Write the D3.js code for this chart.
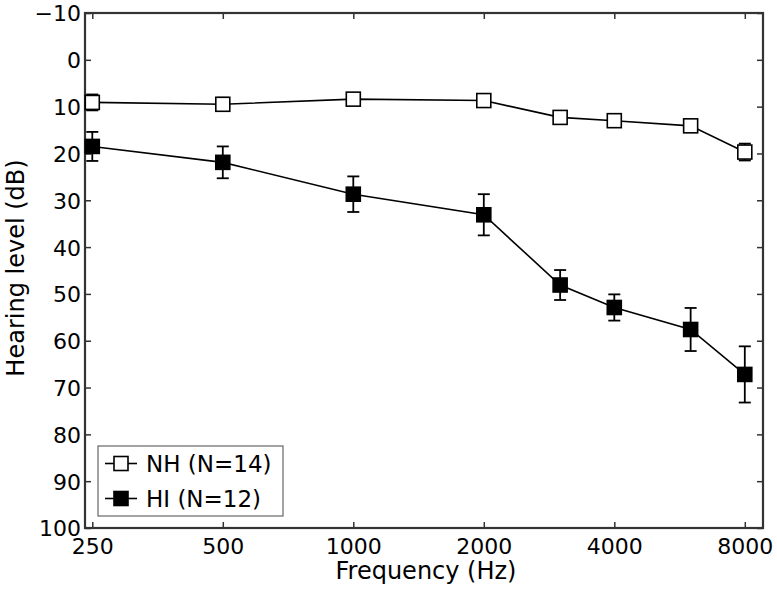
<!DOCTYPE html>
<html>
<head>
<meta charset="utf-8">
<script src="https://cdn.jsdelivr.net/npm/d3@7"></script>
<style>
  body { margin: 0; background: #fff; }
  svg text { font-family: "DejaVu Sans", "Open Sans", sans-serif; fill: #000; }
</style>
</head>
<body>
<svg id="chart"></svg>
<script>
// Data
const freqs = [250, 500, 1000, 2000, 3000, 4000, 6000, 8000];
const nhMean = [9.1, 9.5, 8.4, 8.7, 12.3, 13.0, 14.1, 19.7];
const nhErr = [1.7, 1.4, 0.9, 1.0, 1.1, 0.6, 1.2, 1.8];
const hiMean = [18.5, 21.9, 28.7, 33.1, 48.1, 52.9, 57.6, 67.2];
const hiErr = [3.1, 3.4, 3.8, 4.4, 3.2, 2.8, 4.6, 6.0];
const xTicks = [250, 500, 1000, 2000, 4000, 8000];
const yTicks = [-10, 0, 10, 20, 30, 40, 50, 60, 70, 80, 90, 100];

// Dimensions
const W = 777, H = 589;
const margin = { top: 13, right: 14, bottom: 61, left: 85 };
const width = W - margin.left - margin.right;
const height = H - margin.top - margin.bottom;

const svg = d3.select("#chart").attr("width", W).attr("height", H);
const g = svg.append("g").attr("transform", `translate(${margin.left},${margin.top})`);

// log2 frequency axis, 250 Hz sits a few px inside the frame
const x = d3.scaleLog().base(2).domain([240.5, 8812]).range([0, width]);
const y = d3.scaleLinear().domain([-10, 100]).range([0, height]);

const frameColor = "#333";

// inside ticks on all four sides
const axes = [
  { ax: d3.axisBottom(x).tickValues(xTicks).tickFormat(d3.format("d")), tr: `translate(0,${height})`, labels: true },
  { ax: d3.axisTop(x).tickValues(xTicks), tr: "translate(0,0)", labels: false },
  { ax: d3.axisLeft(y).tickValues(yTicks), tr: "translate(0,0)", labels: true },
  { ax: d3.axisRight(y).tickValues(yTicks), tr: `translate(${width},0)`, labels: false }
];
axes.forEach((a, i) => {
  const ag = g.append("g").attr("transform", a.tr).call(a.ax.tickSizeInner(-6).tickSizeOuter(0));
  ag.select(".domain").remove();
  ag.selectAll(".tick line").attr("stroke", frameColor).attr("stroke-width", 1.5);
  if (!a.labels) ag.selectAll(".tick text").remove();
  else {
    ag.selectAll(".tick text").style("font-size", "22px").attr("fill", "#000");
    if (i === 0) ag.selectAll(".tick text").attr("y", 7).attr("dy", "0.85em");
    else ag.selectAll(".tick text").attr("x", -4).attr("dy", "0.36em");
  }
});

// frame
g.append("rect")
  .attr("width", width).attr("height", height)
  .attr("fill", "none").attr("stroke", frameColor).attr("stroke-width", 2.2);

// series
const series = [
  { mean: nhMean, err: nhErr, fill: "#fff" },
  { mean: hiMean, err: hiErr, fill: "#000" }
];
const line = d3.line().x(d => x(d.f)).y(d => y(d.v));
const ms = 14, cap = 6;

series.forEach(s => {
  const pts = freqs.map((f, i) => ({ f, v: s.mean[i], e: s.err[i] }));
  g.append("path").datum(pts).attr("d", line)
    .attr("fill", "none").attr("stroke", "#000").attr("stroke-width", 1.6);
  const eb = g.append("g").selectAll("g").data(pts).join("g");
  eb.append("line")
    .attr("x1", d => x(d.f)).attr("x2", d => x(d.f))
    .attr("y1", d => y(d.v - d.e)).attr("y2", d => y(d.v + d.e));
  eb.append("line")
    .attr("x1", d => x(d.f) - cap).attr("x2", d => x(d.f) + cap)
    .attr("y1", d => y(d.v - d.e)).attr("y2", d => y(d.v - d.e));
  eb.append("line")
    .attr("x1", d => x(d.f) - cap).attr("x2", d => x(d.f) + cap)
    .attr("y1", d => y(d.v + d.e)).attr("y2", d => y(d.v + d.e));
  eb.selectAll("line").attr("stroke", "#000").attr("stroke-width", 1.8);
  g.append("g").selectAll("rect").data(pts).join("rect")
    .attr("x", d => x(d.f) - ms / 2).attr("y", d => y(d.v) - ms / 2)
    .attr("width", ms).attr("height", ms)
    .attr("fill", s.fill).attr("stroke", "#000").attr("stroke-width", 1.6);
});

// legend
const legend = svg.append("g").attr("transform", "translate(98,446)");
legend.append("rect").attr("width", 185).attr("height", 70)
  .attr("fill", "#fff").attr("stroke", "#666").attr("stroke-width", 1.2);
const legendItems = [
  { label: "NH (N=14)", fill: "#fff" },
  { label: "HI (N=12)", fill: "#000" }
];
legendItems.forEach((d, i) => {
  const row = legend.append("g").attr("transform", `translate(0,${17.5 + i * 35})`);
  row.append("line").attr("x1", 7).attr("x2", 39).attr("stroke", "#000").attr("stroke-width", 1.6);
  row.append("rect").attr("x", 16).attr("y", -7).attr("width", 14).attr("height", 14)
    .attr("fill", d.fill).attr("stroke", "#000").attr("stroke-width", 1.6);
  row.append("text").attr("x", 48).attr("dy", "0.36em").style("font-size", "23px").text(d.label);
});

// axis titles
svg.append("text")
  .attr("x", 426).attr("y", 579)
  .attr("text-anchor", "middle").style("font-size", "24px")
  .text("Frequency (Hz)");
svg.append("text")
  .attr("transform", `translate(24,268) rotate(-90)`)
  .attr("text-anchor", "middle").style("font-size", "24px")
  .text("Hearing level (dB)");
</script>
</body>
</html>
